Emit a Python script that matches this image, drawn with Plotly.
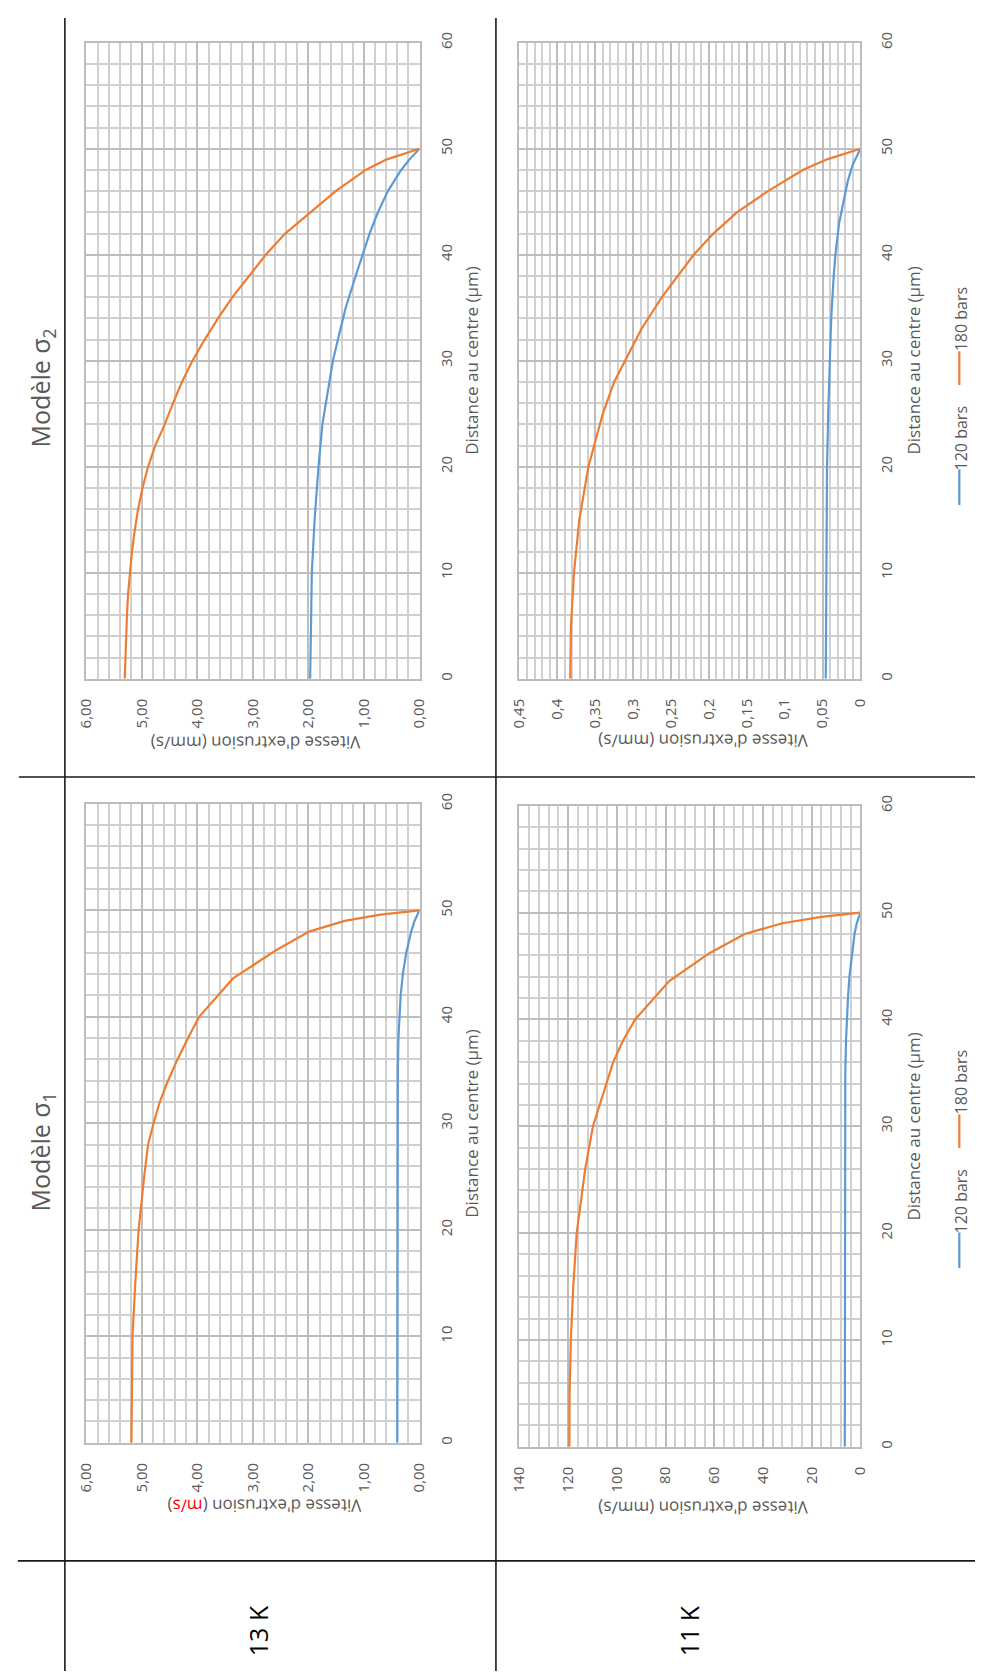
import plotly.graph_objects as go

W, H = 984, 1673

# ---------------- DATA ----------------
# Modèle σ2, 13 K  (mm/s)
d180_s2_13 = [0, 2, 4, 6, 8, 10, 12, 14, 16, 18, 20, 22, 24, 26, 28, 30, 32, 34, 36, 38, 40, 42, 44, 46, 48, 49, 50]
v180_s2_13 = [5.31, 5.30, 5.29, 5.27, 5.25, 5.22, 5.18, 5.13, 5.07, 4.99, 4.89, 4.76, 4.59, 4.44, 4.28, 4.09, 3.87,
              3.63, 3.37, 3.07, 2.77, 2.42, 1.97, 1.51, 0.97, 0.59, 0.00]
d120_s2_13 = [0, 5, 10, 15, 20, 24, 28, 30, 32, 35, 38, 40, 42, 44, 46, 48, 49, 50]
v120_s2_13 = [1.97, 1.96, 1.94, 1.89, 1.82, 1.75, 1.63, 1.56, 1.47, 1.33, 1.15, 1.03, 0.90, 0.75, 0.57, 0.33, 0.18, 0.00]

# Modèle σ2, 11 K  (mm/s)
d180_s2_11 = [0, 5, 10, 15, 20, 25, 28, 30, 33, 36, 40, 42, 44, 46, 48, 49, 50]
v180_s2_11 = [0.383, 0.382, 0.378, 0.371, 0.359, 0.340, 0.325, 0.311, 0.289, 0.262, 0.220, 0.194, 0.163, 0.122,
              0.076, 0.044, 0.0]
d120_s2_11 = [0, 10, 20, 25, 30, 34, 38, 40, 43, 45, 47, 48.5, 50]
v120_s2_11 = [0.0457, 0.0452, 0.0440, 0.0425, 0.0408, 0.0385, 0.0352, 0.0330, 0.0280, 0.0225, 0.0165, 0.0100, 0.0]

# Modèle σ1, 13 K  (m/s)
d180_s1_13 = [0, 5, 10, 15, 20, 25, 28, 30, 32, 34, 36, 38, 40, 43.6, 46.2, 48, 49, 49.6, 50]
v180_s1_13 = [5.19, 5.185, 5.17, 5.12, 5.06, 4.96, 4.89, 4.79, 4.68, 4.53, 4.36, 4.17, 3.97, 3.36, 2.60, 1.99, 1.35,
              0.70, 0.0]
d120_s1_13 = [0, 10, 20, 30, 35, 38, 40, 42, 44, 46, 48, 49, 50]
v120_s1_13 = [0.40, 0.40, 0.399, 0.397, 0.39, 0.38, 0.365, 0.34, 0.30, 0.24, 0.15, 0.09, 0.0]

# Modèle σ1, 11 K  (mm/s)
d180_s1_11 = [0, 5, 10, 15, 20, 22, 26, 30, 32, 34, 36, 38, 40, 43.6, 46.2, 48, 49, 49.6, 50]
v180_s1_11 = [119.5, 119.4, 118.9, 117.9, 116.5, 115.4, 113.0, 109.8, 107.0, 104.5, 101.5, 97.5, 92.5, 78.5, 62.0,
              47.5, 32.0, 16.0, 0.0]
d120_s1_11 = [0, 30, 35, 38, 40, 42, 44, 46, 48, 49, 50]
v120_s1_11 = [6.4, 6.4, 6.2, 5.9, 5.6, 5.1, 4.5, 3.6, 2.4, 1.5, 0.0]

# tick labels
dist_ticks = [0, 10, 20, 30, 40, 50, 60]
vel_ticks_13 = [0, 1, 2, 3, 4, 5, 6]
vel_text_13 = ["0,00", "1,00", "2,00", "3,00", "4,00", "5,00", "6,00"]
vel_ticks_s2_11 = [0, 0.05, 0.1, 0.15, 0.2, 0.25, 0.3, 0.35, 0.4, 0.45]
vel_text_s2_11 = ["0", "0,05", "0,1", "0,15", "0,2", "0,25", "0,3", "0,35", "0,4", "0,45"]
vel_ticks_s1_11 = [0, 20, 40, 60, 80, 100, 120, 140]
vel_text_s1_11 = ["0", "20", "40", "60", "80", "100", "120", "140"]

series_names = ["120 bars", "180 bars"]
BLUE = "#5B9BD5"
ORANGE = "#ED7D31"
GREY_TXT = "#595959"
FONT = "Open Sans"

# ---------------- PANELS ----------------
panels = [
    dict(x0=77, x1=417, y0=32, y1=673, vmax=6, ticks=vel_ticks_13, text=vel_text_13, minor=0.2,
         d120=d120_s2_13, v120=v120_s2_13, d180=d180_s2_13, v180=v180_s2_13),
    dict(x0=519, x1=867, y0=32, y1=673, vmax=0.45, ticks=vel_ticks_s2_11, text=vel_text_s2_11, minor=0.01,
         d120=d120_s2_11, v120=v120_s2_11, d180=d180_s2_11, v180=v180_s2_11),
    dict(x0=77, x1=417, y0=799, y1=1443, vmax=6, ticks=vel_ticks_13, text=vel_text_13, minor=0.2,
         d120=d120_s1_13, v120=v120_s1_13, d180=d180_s1_13, v180=v180_s1_13),
    dict(x0=519, x1=867, y0=801, y1=1447, vmax=140, ticks=vel_ticks_s1_11, text=vel_text_s1_11, minor=4,
         d120=d120_s1_11, v120=v120_s1_11, d180=d180_s1_11, v180=v180_s1_11),
]


def px(x):
    return x / W


def py(y):
    return 1 - y / H


fig = go.Figure()
layout = dict(
    width=W, height=H, autosize=False,
    margin=dict(l=0, r=0, t=0, b=0),
    paper_bgcolor="white", plot_bgcolor="white",
    showlegend=False,
    font=dict(family=FONT, color=GREY_TXT),
)

for i, p in enumerate(panels, start=1):
    xa = "x" if i == 1 else f"x{i}"
    ya = "y" if i == 1 else f"y{i}"
    fig.add_trace(go.Scatter(x=p["v120"], y=p["d120"], mode="lines", name=series_names[0],
                             line=dict(color=BLUE, width=2.2), xaxis=xa, yaxis=ya))
    fig.add_trace(go.Scatter(x=p["v180"], y=p["d180"], mode="lines", name=series_names[1],
                             line=dict(color=ORANGE, width=2.2), xaxis=xa, yaxis=ya))
    xkey = "xaxis" if i == 1 else f"xaxis{i}"
    ykey = "yaxis" if i == 1 else f"yaxis{i}"
    layout[xkey] = dict(
        domain=[px(p["x0"]), px(p["x1"])], anchor=ya,
        range=[p["vmax"], 0], tickmode="array", tickvals=p["ticks"], ticktext=p["text"],
        tickangle=-90, ticks="", ticklabelstandoff=12,
        tickfont=dict(size=15, color=GREY_TXT, family=FONT),
        showgrid=True, gridcolor="#bdbdbd", gridwidth=2,
        minor=dict(tick0=0, dtick=p["minor"], showgrid=True, gridcolor="#d0d0d0", gridwidth=1.6),
        showline=True, mirror=True, linecolor="#bdbdbd", linewidth=2,
        zeroline=False, fixedrange=True,
    )
    layout[ykey] = dict(
        domain=[py(p["y1"]), py(p["y0"])], anchor=xa, side="right",
        range=[0, 60], tickmode="array", tickvals=dist_ticks,
        tickangle=-90, ticks="", ticklabelstandoff=12,
        tickfont=dict(size=15, color=GREY_TXT, family=FONT),
        showgrid=True, gridcolor="#bdbdbd", gridwidth=2,
        minor=dict(tick0=0, dtick=2, showgrid=True, gridcolor="#d0d0d0", gridwidth=1.6),
        showline=True, mirror=True, linecolor="#bdbdbd", linewidth=2,
        zeroline=False, fixedrange=True,
    )

fig.update_layout(**layout)

ann = []
# velocity axis titles (upside down)
vel_titles = [
    (359, 738, "Vitesse d'extrusion (mm/s)"),
    (815, 736, "Vitesse d'extrusion (mm/s)"),
    (360, 1507, "Vitesse d'extrusion (<span style='color:#FF0000'>m/s</span>)"),
    (815, 1509, "Vitesse d'extrusion (mm/s)"),
]
for x, y, t in vel_titles:
    ann.append(dict(x=px(x), y=py(y), xref="paper", yref="paper", text=t, showarrow=False,
                    textangle=179.9, xanchor="right", yanchor="middle",
                    font=dict(size=17, color=GREY_TXT, family=FONT)))
# distance axis titles
for x, y in [(470, 352), (921, 352), (470, 1121), (921, 1124)]:
    ann.append(dict(x=px(x), y=py(y), xref="paper", yref="paper", text="Distance au centre (µm)",
                    showarrow=False, textangle=-90, xanchor="center", yanchor="middle",
                    font=dict(size=17, color=GREY_TXT, family=FONT)))
# model headers
for y, t in [(380, "Modèle σ<sub>2</sub>"), (1150, "Modèle σ<sub>1</sub>")]:
    ann.append(dict(x=px(31), y=py(y), xref="paper", yref="paper", text=t, showarrow=False,
                    textangle=-90, xanchor="center", yanchor="middle",
                    font=dict(size=25, color=GREY_TXT, family=FONT)))
# temperature row labels
for x, t in [(252, "13 K"), (692, "11 K")]:
    ann.append(dict(x=px(x), y=py(1632), xref="paper", yref="paper", text=t, showarrow=False,
                    textangle=-90, xanchor="center", yanchor="middle",
                    font=dict(size=25, color="#000000", family=FONT)))

shapes = []
# legends (right-hand panels)
for off in [0, 769]:
    for (l0, l1, t0, t1), col, name in [((498, 462, 462, 399), BLUE, series_names[0]),
                                        ((377, 343, 343, 278), ORANGE, series_names[1])]:
        shapes.append(dict(type="line", xref="paper", yref="paper",
                           x0=px(968), x1=px(968), y0=py(l0 + off), y1=py(l1 + off),
                           line=dict(color=col, width=2.2)))
        ann.append(dict(x=px(970), y=py((t0 + t1) / 2 + off), xref="paper", yref="paper", text=name,
                        showarrow=False, textangle=-90, xanchor="center", yanchor="middle",
                        font=dict(size=16, color=GREY_TXT, family=FONT)))

# table lines
TL = dict(color="#1a1a1a", width=1.6)
shapes += [
    dict(type="line", xref="paper", yref="paper", x0=px(55), x1=px(55), y0=py(7), y1=py(H), line=TL),
    dict(type="line", xref="paper", yref="paper", x0=px(495), x1=px(495), y0=py(7), y1=py(H), line=TL),
    dict(type="line", xref="paper", yref="paper", x0=px(8), x1=px(W), y0=py(772), y1=py(772), line=TL),
    dict(type="line", xref="paper", yref="paper", x0=px(7), x1=px(W), y0=py(1562), y1=py(1562), line=TL),
]

fig.update_layout(annotations=ann, shapes=shapes)
fig.write_html("out.html", config={"displayModeBar": False},
               post_script="document.body.style.margin='0';")
